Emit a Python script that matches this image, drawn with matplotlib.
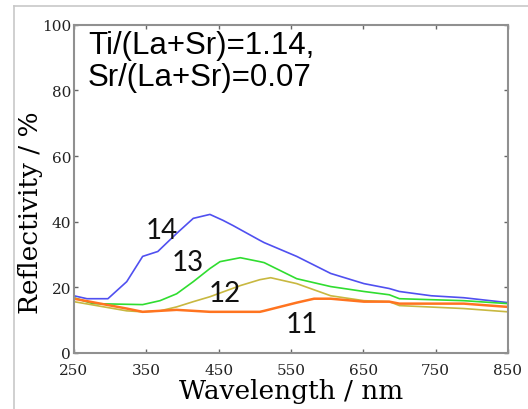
import matplotlib
matplotlib.use("Agg")
import matplotlib.pyplot as plt
from matplotlib.lines import Line2D
import numpy as np

# reflectance spectra, wavelength (nm) vs reflectivity (%)
wl_14 = [250, 268, 297, 323, 345, 366, 392, 415, 438, 456, 470, 507, 513, 558, 605, 651, 686, 700, 744, 789, 850]
r_14 = [17.4, 16.5, 16.5, 21.7, 29.4, 30.9, 36.4, 41.0, 42.2, 40.4, 38.8, 34.3, 33.6, 29.4, 24.2, 21.1, 19.6, 18.7, 17.4, 16.8, 15.3]

wl_13 = [250, 276, 345, 369, 392, 415, 438, 452, 480, 507, 513, 558, 605, 651, 686, 700, 789, 850]
r_13 = [16.8, 15.0, 14.7, 15.9, 18.0, 21.7, 25.7, 27.8, 29.0, 27.8, 27.5, 22.6, 20.2, 18.7, 17.7, 16.5, 15.9, 15.0]

wl_12 = [250, 323, 345, 369, 392, 415, 438, 480, 507, 522, 558, 605, 651, 686, 700, 789, 850]
r_12 = [15.6, 12.8, 12.5, 12.8, 14.0, 15.6, 17.1, 20.5, 22.3, 22.9, 21.1, 17.4, 15.9, 15.6, 14.4, 13.5, 12.5]

wl_11 = [250, 323, 345, 392, 438, 507, 513, 558, 582, 605, 651, 686, 700, 789, 850]
r_11 = [16.5, 13.5, 12.5, 13.1, 12.5, 12.5, 12.8, 15.3, 16.5, 16.5, 15.6, 15.6, 15.0, 15.0, 14.0]

x_ticks = [250, 350, 450, 550, 650, 750, 850]
y_ticks = [0, 20, 40, 60, 80, 100]

fig = plt.figure(figsize=(5.28, 4.10), dpi=100)
ax = fig.add_axes([0.140, 0.137, 0.822, 0.800])

ax.plot(wl_14, r_14, color="#5050f0", lw=1.2)
ax.plot(wl_13, r_13, color="#30dd30", lw=1.2)
ax.plot(wl_12, r_12, color="#c8b840", lw=1.2)
ax.plot(wl_11, r_11, color="#ff7420", lw=1.8)

num_font = dict(family="Lato", fontsize=20, color="#111111", ha="center", va="center")
ax.text(372, 37.3, "14", **num_font)
ax.text(408, 27.8, "13", **num_font)
ax.text(459, 18.3, "12", **num_font)
ax.text(565, 8.9, "11", **num_font)

ax.text(0.032, 0.985, "Ti/(La+Sr)=1.14,\nSr/(La+Sr)=0.07", transform=ax.transAxes,
        family="Liberation Sans", fontsize=22.5, va="top", ha="left", linespacing=1.1)

ax.set_xlim(250, 850)
ax.set_ylim(0, 100)
ax.set_xticks(x_ticks)
ax.set_yticks(y_ticks)
ax.tick_params(direction="in", length=3, width=1, color="#666666", top=True, right=True,
               labelsize=11)
ax.tick_params(axis="x", pad=7)
ax.tick_params(axis="y", pad=2)
for lab in ax.get_xticklabels() + ax.get_yticklabels():
    lab.set_family("DejaVu Serif")
    lab.set_color("#222222")
for sp in ax.spines.values():
    sp.set_color("#909090")
    sp.set_linewidth(1.5)

ax.set_xlabel("Wavelength / nm", family="DejaVu Serif", fontsize=19, labelpad=1)
ax.set_ylabel("Reflectivity / %", family="DejaVu Serif", fontsize=19, labelpad=0)
ax.yaxis.set_label_coords(-0.072, 0.43)

# light frame around the panel
fig.add_artist(Line2D([0.0265, 0.0265], [0, 0.983], transform=fig.transFigure, color="#c8c8c8", lw=1.2))
fig.add_artist(Line2D([0.0265, 1.0], [0.983, 0.983], transform=fig.transFigure, color="#c8c8c8", lw=1.2))

fig.savefig("out.png", dpi=100)
